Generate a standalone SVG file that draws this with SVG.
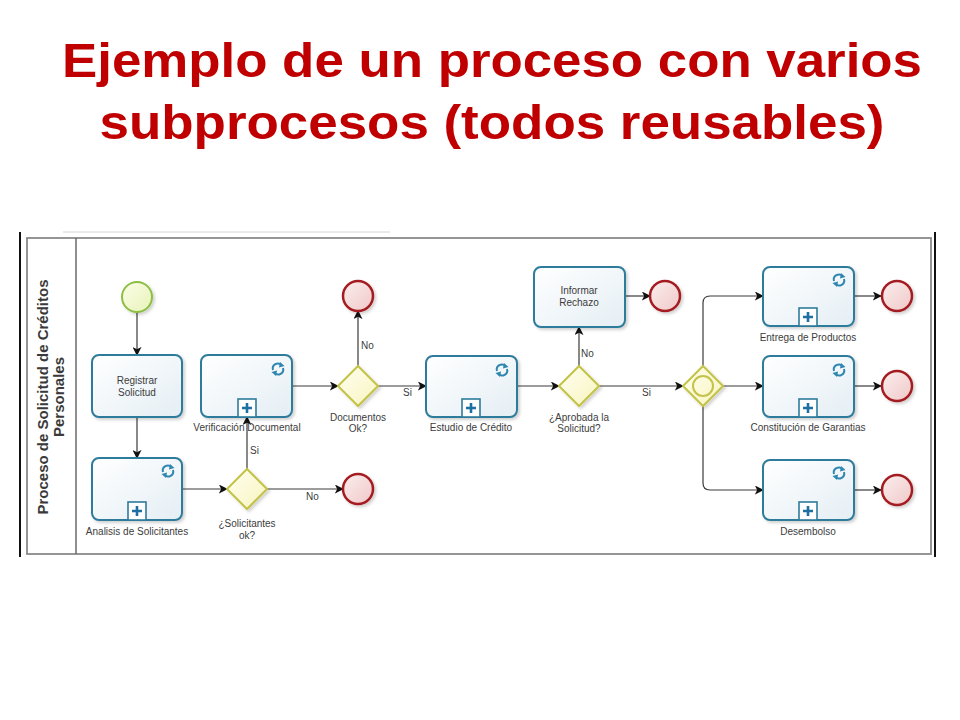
<svg xmlns="http://www.w3.org/2000/svg" width="960" height="720" viewBox="0 0 960 720">
<defs>
<style>
.title{font-family:"Liberation Sans",Arial,sans-serif;font-weight:bold;font-size:49px;fill:#c00000;text-anchor:middle}
.lane{font-family:"Liberation Sans",Arial,sans-serif;font-weight:bold;font-size:15px;fill:#3a3a3a;text-anchor:middle}
.lbl{font-family:"Liberation Sans",Arial,sans-serif;font-size:10px;fill:#3c3c3c;text-anchor:middle}
.sm{font-family:"Liberation Sans",Arial,sans-serif;font-size:10px;fill:#3c3c3c}
.task{fill:url(#gTask);stroke:#2f7b9b;stroke-width:2;filter:url(#sh)}
.gw{fill:url(#gGw);stroke:#c3c347;stroke-width:2;filter:url(#sh)}
.end{fill:url(#gEnd);stroke:#a41e22;stroke-width:2.5;filter:url(#sh)}
.start{fill:url(#gStart);stroke:#8dbf45;stroke-width:2;filter:url(#sh)}
.flow{fill:none;stroke:#3a3a3a;stroke-width:1.2;marker-end:url(#arr)}
.sub{fill:#fff;stroke:#2f7b9b;stroke-width:1.6}
.plus{stroke:#1f6fa3;stroke-width:2.6}
.loop{fill:none;stroke:#2f86b0;stroke-width:2}
</style>
<linearGradient id="gTask" x1="0" y1="0" x2="1" y2="1">
<stop offset="0" stop-color="#ffffff"/><stop offset="1" stop-color="#e4eef4"/>
</linearGradient>
<linearGradient id="gGw" x1="0" y1="0" x2="1" y2="1">
<stop offset="0" stop-color="#fffff0"/><stop offset="1" stop-color="#f8f4c0"/>
</linearGradient>
<linearGradient id="gEnd" x1="0" y1="0" x2="1" y2="1">
<stop offset="0" stop-color="#fbeeee"/><stop offset="1" stop-color="#f0c8c8"/>
</linearGradient>
<linearGradient id="gStart" x1="0" y1="0" x2="1" y2="1">
<stop offset="0" stop-color="#fbfde8"/><stop offset="1" stop-color="#e8f3b8"/>
</linearGradient>
<filter id="sh" x="-20%" y="-20%" width="150%" height="150%">
<feDropShadow dx="2" dy="2" stdDeviation="1.5" flood-color="#000" flood-opacity="0.18"/>
</filter>
<marker id="arr" viewBox="0 0 10 10" refX="9" refY="5" markerWidth="9" markerHeight="9" markerUnits="userSpaceOnUse" orient="auto">
<path d="M0,0 L10,5 L0,10 L2.5,5 z" fill="#111"/>
</marker>
<g id="loopIcon">
<path class="loop" d="M-5,1 A5,5 0 0 1 3.5,-3.8"/>
<path d="M2,-7 L6.5,-3 L1,-1.5 z" fill="#2f86b0"/>
<path class="loop" d="M5,-1 A5,5 0 0 1 -3.5,3.8"/>
<path d="M-2,7 L-6.5,3 L-1,1.5 z" fill="#2f86b0"/>
</g>
<g id="subMark">
<rect class="sub" x="-9" y="-18" width="18" height="18"/>
<path class="plus" d="M-5,-9 H5 M0,-14 V-4"/>
</g>
</defs>

<rect width="960" height="720" fill="#ffffff"/>

<g id="title">
<text class="title" x="492" y="77" textLength="860" lengthAdjust="spacingAndGlyphs">Ejemplo de un proceso con varios</text>
<text class="title" x="492" y="139" textLength="785" lengthAdjust="spacingAndGlyphs">subprocesos (todos reusables)</text>
</g>

<g id="pool">
<line x1="63" y1="232" x2="390" y2="232" stroke="#e2e2e2" stroke-width="1.5"/>
<line x1="20" y1="232" x2="20" y2="557" stroke="#111" stroke-width="2"/>
<line x1="935" y1="232" x2="935" y2="557" stroke="#111" stroke-width="2"/>
<rect x="27" y="238" width="904" height="316" fill="#fff" stroke="#8a8a8a" stroke-width="1.8"/>
<line x1="76" y1="238" x2="76" y2="554" stroke="#6a6a6a" stroke-width="1.5"/>
<text class="lane" transform="translate(48,397) rotate(-90)">Proceso de Solicitud de Créditos</text>
<text class="lane" transform="translate(64,397) rotate(-90)">Personales</text>
</g>

<g id="connectors">
<path class="flow" d="M137,312 V355"/>
<path class="flow" d="M137,417 V458"/>
<path class="flow" d="M182,489 H227"/>
<path class="flow" d="M247,469 V417"/>
<path class="flow" d="M267,489 H343"/>
<path class="flow" d="M292,386 H338"/>
<path class="flow" d="M358,366 V311"/>
<path class="flow" d="M378,386 H426"/>
<path class="flow" d="M517,386 H559"/>
<path class="flow" d="M579,366 V327"/>
<path class="flow" d="M625,296 H650"/>
<path class="flow" d="M599,386 H683"/>
<path class="flow" d="M703,366 V303 Q703,296 710,296 H763"/>
<path class="flow" d="M723,386 H763"/>
<path class="flow" d="M703,406 V483 Q703,490 710,490 H763"/>
<path class="flow" d="M854,296 H881"/>
<path class="flow" d="M854,386 H881"/>
<path class="flow" d="M854,490 H881"/>
<text class="sm" x="250" y="454">Si</text>
<text class="sm" x="306" y="500">No</text>
<text class="sm" x="361" y="349">No</text>
<text class="sm" x="403" y="396">Si</text>
<text class="sm" x="581" y="357">No</text>
<text class="sm" x="642" y="396">Si</text>
</g>

<g id="start">
<circle class="start" cx="137" cy="297" r="15"/>
</g>

<g id="registrar">
<rect class="task" x="92" y="355" width="90" height="62" rx="7"/>
<text class="lbl" x="137" y="384">Registrar</text>
<text class="lbl" x="137" y="396">Solicitud</text>
</g>

<g id="analisis">
<rect class="task" x="92" y="458" width="90" height="62" rx="7"/>
<use href="#loopIcon" x="168" y="471"/>
<use href="#subMark" x="137" y="520"/>
<text class="lbl" x="137" y="535">Analisis de Solicitantes</text>
</g>

<g id="verificacion">
<rect class="task" x="201" y="355" width="91" height="62" rx="7"/>
<use href="#loopIcon" x="278" y="369"/>
<use href="#subMark" x="247" y="417"/>
<text class="lbl" x="247" y="431">Verificación Documental</text>
</g>

<g id="gw-solicitantes">
<path class="gw" d="M247,469 L267,489 L247,509 L227,489 z"/>
<text class="lbl" x="247" y="527">¿Solicitantes</text>
<text class="lbl" x="247" y="539">ok?</text>
</g>

<g id="end-solicitantes">
<circle class="end" cx="358" cy="489" r="15"/>
</g>

<g id="gw-documentos">
<path class="gw" d="M358,366 L378,386 L358,406 L338,386 z"/>
<text class="lbl" x="358" y="421">Documentos</text>
<text class="lbl" x="358" y="432">Ok?</text>
</g>

<g id="end-documentos">
<circle class="end" cx="358" cy="296" r="15"/>
</g>

<g id="estudio">
<rect class="task" x="426" y="356" width="91" height="61" rx="7"/>
<use href="#loopIcon" x="502" y="370"/>
<use href="#subMark" x="471" y="417"/>
<text class="lbl" x="471" y="431">Estudio de Crédito</text>
</g>

<g id="gw-aprobada">
<path class="gw" d="M579,366 L599,386 L579,406 L559,386 z"/>
<text class="lbl" x="579" y="421">¿Aprobada la</text>
<text class="lbl" x="579" y="432">Solicitud?</text>
</g>

<g id="informar">
<rect class="task" x="534" y="267" width="91" height="60" rx="7"/>
<text class="lbl" x="579" y="294">Informar</text>
<text class="lbl" x="579" y="306">Rechazo</text>
</g>

<g id="end-informar">
<circle class="end" cx="665" cy="296" r="15"/>
</g>

<g id="gw-paralelo">
<path class="gw" d="M703,366 L723,386 L703,406 L683,386 z"/>
<circle cx="703" cy="386" r="10" fill="none" stroke="#c3c347" stroke-width="2"/>
</g>

<g id="entrega">
<rect class="task" x="763" y="267" width="91" height="59" rx="7"/>
<use href="#loopIcon" x="839" y="280"/>
<use href="#subMark" x="808" y="326"/>
<text class="lbl" x="808" y="341">Entrega de Productos</text>
</g>

<g id="constitucion">
<rect class="task" x="763" y="356" width="91" height="61" rx="7"/>
<use href="#loopIcon" x="839" y="370"/>
<use href="#subMark" x="808" y="417"/>
<text class="lbl" x="808" y="431">Constitución de Garantias</text>
</g>

<g id="desembolso">
<rect class="task" x="763" y="460" width="91" height="60" rx="7"/>
<use href="#loopIcon" x="839" y="473"/>
<use href="#subMark" x="808" y="520"/>
<text class="lbl" x="808" y="535">Desembolso</text>
</g>

<g id="end-entrega"><circle class="end" cx="897" cy="296" r="15"/></g>
<g id="end-constitucion"><circle class="end" cx="897" cy="386" r="15"/></g>
<g id="end-desembolso"><circle class="end" cx="897" cy="490" r="15"/></g>
</svg>
